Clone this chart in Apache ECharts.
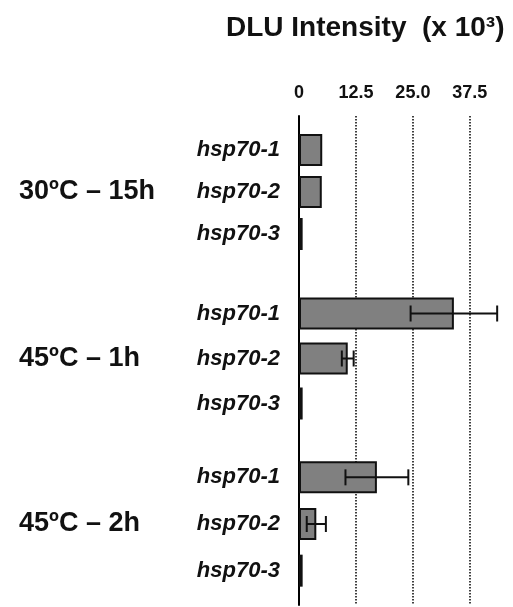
<!DOCTYPE html>
<html>
<head>
<meta charset="utf-8">
<script src="https://cdn.jsdelivr.net/npm/echarts@6/dist/echarts.min.js"></script>
<style>
  html, body { margin: 0; padding: 0; background: #fff; }
  #main { width: 513px; height: 607px; }
</style>
</head>
<body>
<div id="main"></div>
<script>
// 数据
var genes = ['hsp70-1', 'hsp70-2', 'hsp70-3'];
var conditions = ['30\u00BAC \u2013 15h', '45\u00BAC \u2013 1h', '45\u00BAC \u2013 2h'];
var intensity30c15h = [5.1, 5.0, 0.8];
var error30c15h = [0, 0, 0];
var intensity45c1h = [34.0, 10.7, 0.8];
var error45c1h = [9.5, 1.3, 0];
var intensity45c2h = [17.1, 3.8, 0.8];
var error45c2h = [6.9, 2.1, 0];
var tickValues = [0, 12.5, 25, 37.5];
var tickLabels = ['0', '12.5', '25.0', '37.5'];

var groups = [
    { name: conditions[0], values: intensity30c15h, errors: error30c15h, top: 129, height: 126 },
    { name: conditions[1], values: intensity45c1h, errors: error45c1h, top: 291, height: 135 },
    { name: conditions[2], values: intensity45c2h, errors: error45c2h, top: 454, height: 140 }
];

var xMin = 0, xMax = 45;
var myChart = echarts.init(document.getElementById('main'));

// 背景网格：坐标轴线、虚线网格、顶部刻度
var grids = [{ left: 299, right: 9, top: 116, bottom: 2 }];
var xAxes = [{
    gridIndex: 0, type: 'value', position: 'top', min: xMin, max: xMax, interval: 12.5,
    axisLine: { show: false }, axisTick: { show: false },
    axisLabel: {
        margin: 14, color: '#111', fontFamily: 'Arial', fontWeight: 'bold', fontSize: 18,
        showMaxLabel: false,
        formatter: function (v) {
            var i = tickValues.indexOf(v);
            return i >= 0 ? tickLabels[i] : '';
        }
    },
    splitLine: { show: true, showMinLine: false, showMaxLine: false, lineStyle: { color: '#111', width: 1.6, type: [1.6, 1.4] } }
}];
var yAxes = [{
    gridIndex: 0, type: 'value', min: 0, max: 1,
    axisLine: { show: true, onZero: false, lineStyle: { color: '#000', width: 2 } },
    axisTick: { show: false }, axisLabel: { show: false }, splitLine: { show: false }
}];
var series = [];

groups.forEach(function (g, k) {
    var gi = k + 1;
    grids.push({ left: 299, right: 9, top: g.top, height: g.height });
    xAxes.push({ gridIndex: gi, type: 'value', min: xMin, max: xMax, show: false });
    yAxes.push({
        gridIndex: gi, type: 'category', data: genes, inverse: true,
        name: g.name, nameLocation: 'middle', nameRotate: 0, nameGap: 280,
        nameTextStyle: { align: 'left', color: '#111', fontFamily: 'Arial', fontWeight: 'bold', fontSize: 27 },
        axisLine: { show: false }, axisTick: { show: false },
        axisLabel: { margin: 19, color: '#111', fontFamily: 'Arial', fontStyle: 'italic', fontWeight: 'bold', fontSize: 22 }
    });
    series.push({
        type: 'bar', xAxisIndex: gi, yAxisIndex: gi, data: g.values, barWidth: 32,
        itemStyle: { color: '#808080', borderColor: '#111', borderWidth: 2 },
        silent: true
    });
    var errData = [];
    g.values.forEach(function (v, i) {
        if (g.errors[i] > 0) errData.push([i, v - g.errors[i], v + g.errors[i]]);
    });
    series.push({
        type: 'custom', xAxisIndex: gi, yAxisIndex: gi, data: errData,
        encode: { x: [1, 2], y: 0 }, z: 5, silent: true,
        renderItem: function (params, api) {
            var lo = api.coord([api.value(1), api.value(0)]);
            var hi = api.coord([api.value(2), api.value(0)]);
            var c = 8;
            var st = { stroke: '#111', lineWidth: 2 };
            return {
                type: 'group',
                children: [
                    { type: 'line', shape: { x1: lo[0], y1: lo[1], x2: hi[0], y2: hi[1] }, style: st },
                    { type: 'line', shape: { x1: lo[0], y1: lo[1] - c, x2: lo[0], y2: lo[1] + c }, style: st },
                    { type: 'line', shape: { x1: hi[0], y1: hi[1] - c, x2: hi[0], y2: hi[1] + c }, style: st }
                ]
            };
        }
    });
});

var option = {
    backgroundColor: '#fff',
    animation: false,
    title: {
        text: 'DLU Intensity  (x 10\u00B3)',
        left: 221, top: 9,
        textStyle: { color: '#111', fontFamily: 'Arial', fontWeight: 'bold', fontSize: 28 }
    },
    grid: grids,
    xAxis: xAxes,
    yAxis: yAxes,
    series: series
};

myChart.setOption(option);
</script>
</body>
</html>
